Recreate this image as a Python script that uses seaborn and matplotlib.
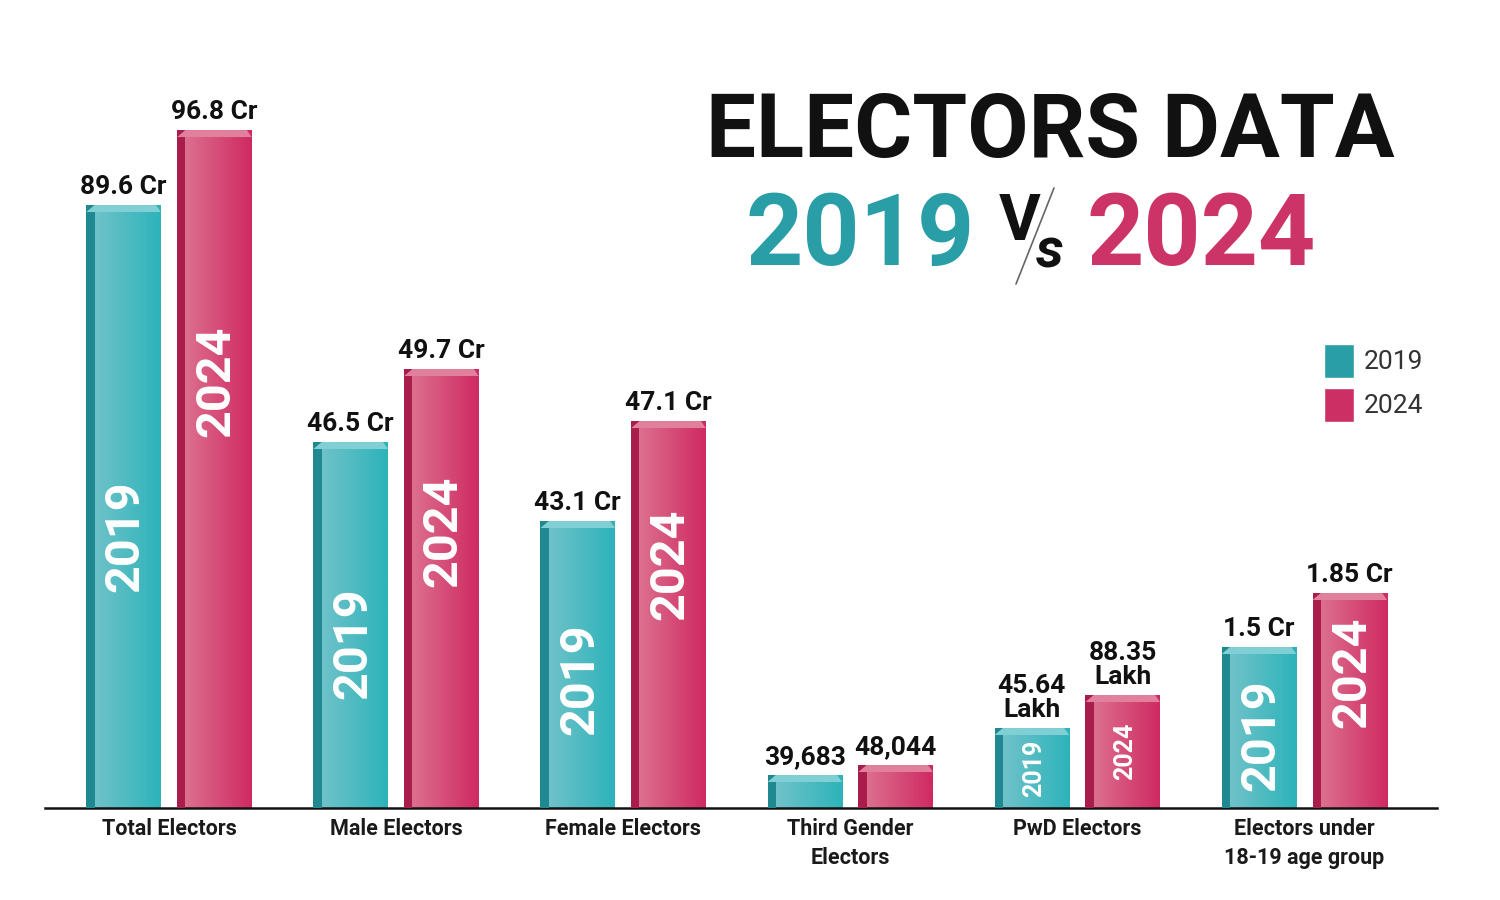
import numpy as np
import pandas as pd
import matplotlib.pyplot as plt
import seaborn as sns
from matplotlib.colors import LinearSegmentedColormap
from matplotlib.patches import Rectangle, Polygon

# categories and series (bar heights are the drawn heights from the infographic, not to scale)
categories = ["Total Electors", "Male Electors", "Female Electors",
              "Third Gender\nElectors", "PwD Electors", "Electors under\n18-19 age group"]
years = ["2019", "2024"]
height_2019 = [603, 366, 287, 33, 80, 161]
height_2024 = [678, 439, 387, 43, 113, 215]
labels_2019 = ["89.6 Cr", "46.5 Cr", "43.1 Cr", "39,683", "45.64\nLakh", "1.5 Cr"]
labels_2024 = ["96.8 Cr", "49.7 Cr", "47.1 Cr", "48,044", "88.35\nLakh", "1.85 Cr"]

df = pd.DataFrame({
    "category": categories * 2,
    "year": [years[0]] * len(categories) + [years[1]] * len(categories),
    "height": height_2019 + height_2024,
    "label": labels_2019 + labels_2024,
})

palette = {"2019": "#2a9ea6", "2024": "#cc2f64"}
grad = {"2019": ("#78c4cb", "#2db3ba"), "2024": ("#de7894", "#cf2a62")}
side = {"2019": "#1f8890", "2024": "#a91d4d"}
cap = {"2019": "#7fcfd4", "2024": "#e0809c"}

sns.set_theme(style="white")
plt.rcParams["font.family"] = ["Roboto", "DejaVu Sans"]

fig = plt.figure(figsize=(15, 9), dpi=100)
ax = fig.add_axes([0.03, 0.1022, 0.928, 0.8533])

sns.barplot(data=df, x="category", y="height", hue="year", palette=palette,
            width=0.8, gap=0.18, saturation=1, ax=ax)

xlim = (-0.546, 5.584)
ylim = (0, 768)

# gradient fill + fake 3d edges
for year, cont in zip(years, ax.containers):
    cmap = LinearSegmentedColormap.from_list(year, grad[year])
    heights = df[df["year"] == year]["height"].values
    texts = df[df["year"] == year]["label"].values
    for bar, h, txt in zip(cont, heights, texts):
        x0, w = bar.get_x(), bar.get_width()
        im = ax.imshow(np.linspace(0, 1, 64).reshape(1, -1), cmap=cmap, aspect="auto",
                       extent=(x0, x0 + w, 0, h), zorder=2)
        im.set_clip_path(bar)
        sw = 0.036
        ax.add_patch(Rectangle((x0, 0), sw, h, color=side[year], zorder=3, lw=0))
        dy = 7
        ax.add_patch(Polygon([(x0, h - dy), (x0 + sw, h), (x0 + w - sw * 0.6, h), (x0 + w, h - dy)],
                             closed=True, color=cap[year], zorder=3, lw=0))
        # value label above the bar
        ax.annotate(txt, (x0 + w / 2, h), xytext=(0, 4), textcoords="offset points",
                    ha="center", va="bottom", fontsize=19, fontweight="bold",
                    color="#111111", linespacing=1.05, zorder=5)
        # year text inside the bar
        if h > 150:
            frac = 0.45 if year == "2019" else 0.63
            ax.text(x0 + w / 2 + 0.01, h * frac, year, rotation=90, ha="center", va="center",
                    fontsize=35, fontweight="bold", color="white", zorder=5)
        elif h > 60:
            ax.text(x0 + w / 2 + 0.01, h * 0.5, year, rotation=90, ha="center", va="center",
                    fontsize=18, fontweight="bold", color="white", zorder=5)

ax.set_xlim(*xlim)
ax.set_ylim(*ylim)
ax.set_xlabel("")
ax.set_ylabel("")
ax.set_yticks([])
ax.tick_params(axis="x", length=0, pad=7)
ax.set_xticks(range(len(categories)))
ax.set_xticklabels(categories, fontsize=15.5, fontweight="bold", color="#1a1a1a", linespacing=1.45)
for s in ["top", "left", "right"]:
    ax.spines[s].set_visible(False)
ax.spines["bottom"].set_color("#111111")
ax.spines["bottom"].set_linewidth(1.8)
ax.patch.set_alpha(0)

sns.move_legend(ax, "upper left", bbox_to_anchor=(1300 / 1500, 1 - 320 / 900),
                bbox_transform=fig.transFigure, frameon=False, title=None,
                fontsize=19, handlelength=1.15, handleheight=1.6,
                handletextpad=0.35, labelspacing=0.38)
for t in ax.get_legend().get_texts():
    t.set_color("#333333")

# title block
fig.text(1050 / 1500, 1 - 133 / 900, "ELECTORS DATA", ha="center", va="center",
         fontsize=64, fontweight="bold", color="#111111")
fig.text(860 / 1500, 1 - 238 / 900, "2019", ha="center", va="center",
         fontsize=72, fontweight="bold", color="#2a9ea6")
fig.text(1201 / 1500, 1 - 238 / 900, "2024", ha="center", va="center",
         fontsize=72, fontweight="bold", color="#cc3366")
fig.text(1020 / 1500, 1 - 222 / 900, "V", ha="center", va="center",
         fontsize=46, fontweight="bold", color="#111111")
fig.text(1050 / 1500, 1 - 252 / 900, "s", ha="center", va="center",
         fontsize=40, fontweight="bold", color="#111111", style="italic")
fig.add_artist(plt.Line2D([1054 / 1500, 1016 / 1500], [1 - 188 / 900, 1 - 284 / 900],
                          transform=fig.transFigure, color="#666666", lw=1.2))

fig.savefig("out.png", dpi=100, facecolor="white")
